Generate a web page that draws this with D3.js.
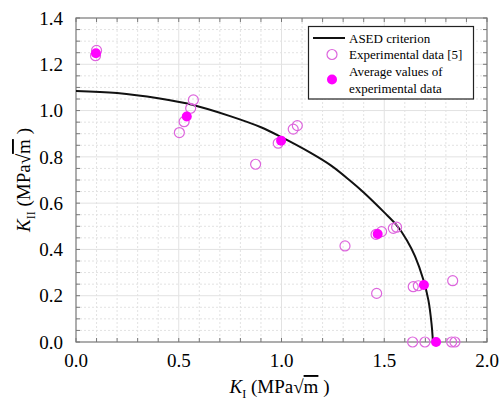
<!DOCTYPE html>
<html>
<head>
<meta charset="utf-8">
<script src="https://cdn.jsdelivr.net/npm/d3@7"></script>
<style>
  body { margin: 0; background: #fff; }
  svg text { font-family: "Liberation Serif", "DejaVu Serif", serif; }
</style>
</head>
<body>
<svg id="chart"></svg>
<script>
// ASED criterion curve (KI, KII)
const curveKI  = [0, 0.2, 0.4, 0.57, 0.75, 0.9, 1.0, 1.14, 1.24, 1.33, 1.40, 1.50, 1.56, 1.61, 1.65, 1.69, 1.715, 1.73, 1.737];
const curveKII = [1.085, 1.076, 1.053, 1.024, 0.976, 0.928, 0.885, 0.818, 0.763, 0.70, 0.646, 0.56, 0.505, 0.44, 0.37, 0.27, 0.18, 0.08, 0];

// experimental data [5]
const expKI  = [0.10, 0.095, 0.503, 0.526, 0.558, 0.571, 0.874, 0.984, 1.057, 1.077,
                1.309, 1.460, 1.487, 1.544, 1.560, 1.463, 1.641, 1.666, 1.833,
                1.638, 1.698, 1.828, 1.844];
const expKII = [1.26, 1.237, 0.905, 0.952, 1.01, 1.046, 0.768, 0.859, 0.920, 0.935,
                0.415, 0.465, 0.477, 0.491, 0.496, 0.21, 0.239, 0.243, 0.265,
                0, 0, 0, 0];

// average values
const avgKI  = [0.097, 0.539, 0.998, 1.468, 1.693, 1.752];
const avgKII = [1.248, 0.974, 0.870, 0.467, 0.246, 0];

const xTicks = [0, 0.5, 1.0, 1.5, 2.0];
const yTicks = [0, 0.2, 0.4, 0.6, 0.8, 1.0, 1.2, 1.4];
const legendLabels = ['ASED criterion', 'Experimental data [5]', 'Average values of', 'experimental data'];

const W = 499, H = 401;
const margin = { top: 18, right: 12, bottom: 59, left: 76 };
const width = W - margin.left - margin.right;
const height = H - margin.top - margin.bottom;
const serif = '"Liberation Serif", "DejaVu Serif", serif';

const openColor = '#dd66dd';
const fillColor = '#ff00ff';

const svg = d3.select('#chart').attr('width', W).attr('height', H);
const g = svg.append('g').attr('transform', `translate(${margin.left},${margin.top})`);

const x = d3.scaleLinear().domain([0, 2]).range([0, width]);
const y = d3.scaleLinear().domain([0, 1.4]).range([height, 0]);

// grid
const xGrid = d3.range(1, 20).map(i => i / 10);
const yGrid = d3.range(1, 28).map(i => i / 20);
g.append('g').selectAll('line').data(xGrid).enter().append('line')
    .attr('x1', d => x(d)).attr('x2', d => x(d))
    .attr('y1', 0).attr('y2', height)
    .attr('stroke', '#e2e2e2').attr('stroke-width', 1)
    .attr('stroke-dasharray', d => Math.round(d * 10) % 5 === 0 ? null : '2,2');
g.append('g').selectAll('line').data(yGrid).enter().append('line')
    .attr('x1', 0).attr('x2', width)
    .attr('y1', d => y(d)).attr('y2', d => y(d))
    .attr('stroke', '#e2e2e2').attr('stroke-width', 1)
    .attr('stroke-dasharray', d => Math.round(d * 20) % 4 === 0 ? null : '2,2');

// inner ticks on all four sides
const xMinor = d3.range(0, 21).map(i => i / 10);
const yMinor = d3.range(0, 29).map(i => i / 20);
const tickG = g.append('g').attr('stroke', '#777').attr('stroke-width', 1);
xMinor.forEach(d => {
    tickG.append('line').attr('x1', x(d)).attr('x2', x(d)).attr('y1', height).attr('y2', height - 4);
    tickG.append('line').attr('x1', x(d)).attr('x2', x(d)).attr('y1', 0).attr('y2', 4);
});
yMinor.forEach(d => {
    tickG.append('line').attr('x1', 0).attr('x2', 4).attr('y1', y(d)).attr('y2', y(d));
    tickG.append('line').attr('x1', width).attr('x2', width - 4).attr('y1', y(d)).attr('y2', y(d));
});

// frame
g.append('rect').attr('width', width).attr('height', height)
    .attr('fill', 'none').attr('stroke', '#777').attr('stroke-width', 1.2);

// tick labels
g.append('g').selectAll('text').data(xTicks).enter().append('text')
    .attr('x', d => x(d)).attr('y', height + 25)
    .attr('text-anchor', 'middle').attr('font-size', 19).attr('font-family', serif)
    .text(d => d.toFixed(1));
g.append('g').selectAll('text').data(yTicks).enter().append('text')
    .attr('x', -13).attr('y', d => y(d)).attr('dy', '0.35em')
    .attr('text-anchor', 'end').attr('font-size', 19).attr('font-family', serif)
    .text(d => d.toFixed(1));

// axis titles
function axisTitle(sel, sub) {
    sel.append('tspan').attr('font-style', 'italic').text('K');
    sel.append('tspan').attr('font-size', 12).attr('dy', 5).text(sub);
    sel.append('tspan').attr('dy', -5).text(' (MPa\u221A');
    sel.append('tspan').style('text-decoration', 'overline').text('m');
    sel.append('tspan').text(' )');
}
const xt = svg.append('text')
    .attr('x', margin.left + width / 2 - 2).attr('y', 393)
    .attr('text-anchor', 'middle').attr('font-size', 19).attr('font-family', serif);
axisTitle(xt, 'I');
const yt = svg.append('text')
    .attr('transform', `translate(30,${margin.top + height / 2}) rotate(-90)`)
    .attr('text-anchor', 'middle').attr('font-size', 19).attr('font-family', serif);
axisTitle(yt, 'II');

// ASED curve
const curvePts = curveKI.map((k, i) => [k, curveKII[i]]);
g.append('path').datum(curvePts)
    .attr('fill', 'none').attr('stroke', '#111').attr('stroke-width', 2)
    .attr('d', d3.line().x(d => x(d[0])).y(d => y(d[1])).curve(d3.curveCatmullRom));

// experimental points
g.append('g').selectAll('circle').data(expKI.map((k, i) => [k, expKII[i]])).enter().append('circle')
    .attr('cx', d => x(d[0])).attr('cy', d => y(d[1])).attr('r', 5)
    .attr('fill', 'none').attr('stroke', openColor).attr('stroke-width', 1.2);

// average points
g.append('g').selectAll('circle').data(avgKI.map((k, i) => [k, avgKII[i]])).enter().append('circle')
    .attr('cx', d => x(d[0])).attr('cy', d => y(d[1])).attr('r', 5)
    .attr('fill', fillColor);

// legend
const lg = svg.append('g');
lg.append('rect').attr('x', 308.5).attr('y', 26.5).attr('width', 165).attr('height', 72.5)
    .attr('fill', '#fff').attr('stroke', '#222').attr('stroke-width', 1.2);
lg.append('line').attr('x1', 313).attr('x2', 345).attr('y1', 38).attr('y2', 38)
    .attr('stroke', '#111').attr('stroke-width', 2);
lg.append('circle').attr('cx', 332).attr('cy', 54.5).attr('r', 5)
    .attr('fill', 'none').attr('stroke', openColor).attr('stroke-width', 1.2);
lg.append('circle').attr('cx', 332).attr('cy', 79.5).attr('r', 5).attr('fill', fillColor);
lg.selectAll('text.lab').data(legendLabels).enter().append('text')
    .attr('class', 'lab')
    .attr('x', 349).attr('y', (d, i) => [38, 54.5, 71.5, 88][i]).attr('dy', '0.35em')
    .attr('font-size', 13).attr('font-family', serif).text(d => d);
</script>
</body>
</html>
